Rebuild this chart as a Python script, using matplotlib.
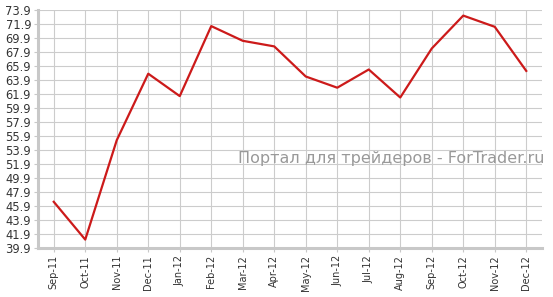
import matplotlib
matplotlib.use("Agg")
from matplotlib import pyplot as plt
import numpy as np

# data
months = ["Sep-11", "Oct-11", "Nov-11", "Dec-11", "Jan-12", "Feb-12", "Mar-12", "Apr-12",
          "May-12", "Jun-12", "Jul-12", "Aug-12", "Sep-12", "Oct-12", "Nov-12", "Dec-12"]
values = [46.5, 41.1, 55.3, 64.8, 61.6, 71.6, 69.5, 68.7,
          64.4, 62.8, 65.4, 61.4, 68.4, 73.1, 71.5, 65.2]
y_ticks = [39.9 + 2 * i for i in range(18)]

fig = plt.figure(figsize=(5.53, 2.97), dpi=100)
ax = fig.add_axes([38 / 553, 1 - 248 / 297, (542 - 38) / 553, (248 - 10) / 297])

x = np.arange(len(months))
ax.plot(x, values, color="#cc1a1a", linewidth=1.6, zorder=3)

ax.set_xlim(-0.5, len(months) - 0.5)
ax.set_ylim(39.9, 73.9)
ax.set_xticks(x)
ax.set_xticklabels(months, rotation=90, fontsize=7)
ax.set_yticks(y_ticks)
ax.set_yticklabels(["%.1f" % v for v in y_ticks], fontsize=8.3)
ax.grid(True, color="#cccccc", linewidth=0.8)
ax.set_axisbelow(True)

for side in ["top", "right"]:
    ax.spines[side].set_visible(False)
for side in ["left", "bottom"]:
    ax.spines[side].set_color("#c8c8c8")
    ax.spines[side].set_linewidth(2.2)
ax.tick_params(colors="#c8c8c8", labelcolor="#333333", length=3, width=0.8, pad=2)

# watermark
fig.text(545 / 553, 1 - 158 / 297, "Портал для трейдеров - ForTrader.ru",
         ha="right", va="center", fontsize=11.5, color="#999999", zorder=2)

fig.savefig("out.png", dpi=100)
